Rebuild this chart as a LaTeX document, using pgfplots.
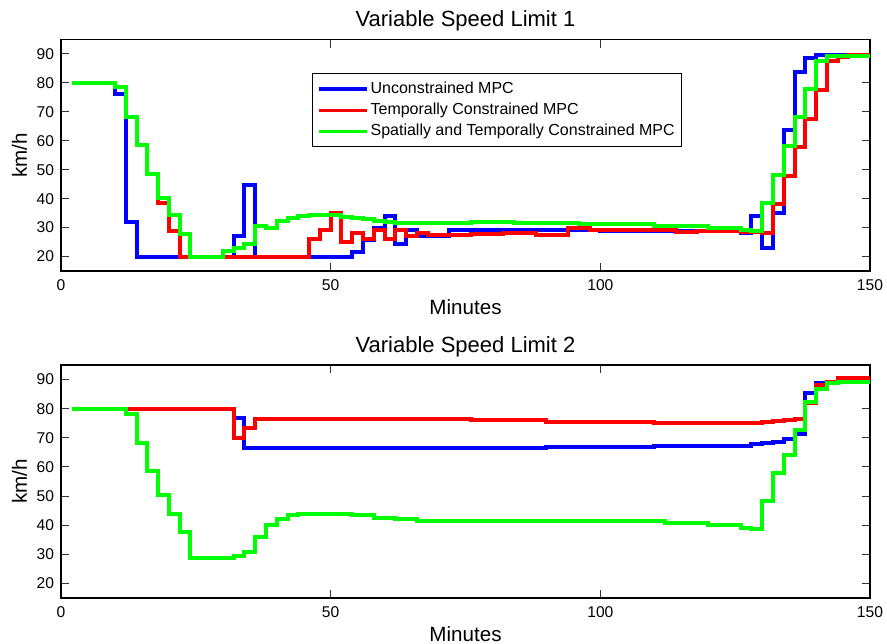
\documentclass[border=0pt]{standalone}
\usepackage{fontspec}
\setmainfont{Liberation Sans}
\usepackage{pgfplots}
\pgfplotsset{compat=1.18}
\definecolor{mblue}{RGB}{0,0,255}
\definecolor{mred}{RGB}{255,0,0}
\definecolor{mgreen}{RGB}{0,255,0}

\pgfplotsset{
  vsl/.style={
    scale only axis,
    width=404.5pt,
    xmin=0, xmax=150, ymin=15, ymax=95,
    xtick={0,50,100,150},
    ytick={20,30,...,90},
    /pgf/number format/assume math mode=true,
    axis line style={line width=0.9pt},
    major tick length=4pt,
    major tick style={line width=0.5pt, black!80},
    tick label style={font=\fontsize{7.8}{9}\selectfont},
    xticklabel style={anchor=base, yshift=-9.9pt},
    label style={font=\fontsize{10.3}{12}\selectfont},
    title style={font=\fontsize{11}{13}\selectfont,
      at={([yshift=0.3pt]axis description cs:0.5,1)}, anchor=base},
    xlabel={Minutes},
    ylabel={km/h},
    xlabel style={at={([yshift=-21.5pt]axis description cs:0.5,0)}, anchor=base},
    ylabel style={at={([xshift=-17pt]axis description cs:0,0.5)}, anchor=base},
    every axis plot/.append style={const plot, no marks, line width=2pt},
  },
  unc/.style={draw=mblue},
  tem/.style={draw=mred},
  spa/.style={draw=mgreen},
}

\begin{document}
\begin{tikzpicture}
\useasboundingbox (0,0) rectangle (443.5pt,-321.5pt);

% ---- Variable Speed Limit 1
\begin{axis}[vsl,
  at={(30.5pt,-135.5pt)}, anchor=south west,
  height=115.75pt,
  title={Variable Speed Limit 1},
  legend style={at={(axis description cs:0.310,0.855)}, anchor=north west,
    draw=black, line width=0.6pt, fill=white,
    font=\fontsize{8}{9}\selectfont,
    inner xsep=2.5pt, inner ysep=3pt, row sep=1.3pt,
    nodes={inner sep=1pt}},
  legend cell align=left,
  legend image code/.code={\draw[#1, line width=1.6pt] (0pt,0pt) -- (24pt,0pt);},
]
\addplot[unc] coordinates {
(2,80) (10,76) (12,32) (14,20) (32,27) (34,44.7) (36,20) (54,21.5) (56,25.7)
(58,29.8) (60,34) (62,24.2) (64,29) (66,27) (72,29) (100,28.9) (126,28.3)
(128,34) (130,23) (132,35) (134,63.7) (136,83.7) (138,88.7) (140,89.5) (150,89.5)
};
\addlegendentry{Unconstrained MPC}
\addplot[tem] coordinates {
(2,80) (10,78.5) (12,68.2) (14,58.6) (16,48.4) (18,38.6) (20,28.7) (22,20)
(46,25.9) (48,29) (50,35) (52,25.1) (54,28.2) (56,26.1) (58,29) (60,26.1)
(62,29) (64,27) (66,28.2) (68,27.3) (76,27.8) (82,28.2) (88,27.6) (90,27.3)
(94,30) (98,29) (114,28.4) (118,28.9) (126,28.6) (130,28.2) (132,38.2)
(134,47.8) (136,57.7) (138,67.4) (140,77.7) (142,87.6) (144,89) (146,89.8) (150,89.8)
};
\addlegendentry{Temporally Constrained MPC}
\addplot[spa] coordinates {
(2,80) (10,78.5) (12,68.2) (14,58.6) (16,48.4) (18,40.1) (20,34.2) (22,27.9)
(24,20) (30,21.9) (32,23.1) (34,24.4) (36,30.7) (38,30) (40,32.2) (42,33.4)
(44,33.9) (46,34.2) (50,34.2) (52,33.6) (54,33.2) (56,32.8) (58,32.4) (60,32)
(62,31.7) (76,31.9) (84,31.7) (96,31.3) (110,30.6) (120,29.8)
(126,29.3) (128,28.8) (130,38.4) (132,48.3) (134,58.3) (136,68.2) (138,78)
(140,87.6) (142,89.3) (150,89.5)
};
\addlegendentry{Spatially and Temporally Constrained MPC}
\end{axis}

% ---- Variable Speed Limit 2
\begin{axis}[vsl,
  at={(30.5pt,-299pt)}, anchor=south west,
  height=116.5pt,
  title={Variable Speed Limit 2},
]
\addplot[unc] coordinates {
(2,80) (32,76.7) (34,66.4) (64,66.6) (90,66.9) (110,67.3) (128,67.8) (130,68.2)
(132,68.7) (134,69.6) (136,71.3) (138,85.3) (140,88.7) (142,89.3) (144,89.6) (150,89.6)
};
\addplot[tem] coordinates {
(2,80) (32,69.8) (34,73.3) (36,76.5) (76,76) (90,75.6) (110,75.2) (126,75)
(130,75.3) (132,75.9) (134,76.1) (136,76.4) (138,81.8) (140,88.1) (142,89.3)
(144,90.4) (146,90.6) (150,90.6)
};
\addplot[spa] coordinates {
(2,80) (12,78.2) (14,68.3) (16,58.7) (18,50.3) (20,44) (22,37.7) (24,28.6)
(30,28.9) (32,29.3) (34,30.9) (36,36) (38,40) (40,42.3) (42,43.5) (44,44)
(50,44) (54,43.5) (58,42.5) (62,42) (66,41.6) (100,41.5) (112,40.8) (120,40)
(126,38.9) (128,38.6) (130,48.4) (132,57.8) (134,64.1) (136,72.7) (138,82.4)
(140,86.7) (142,88.9) (144,89.3) (150,89.5)
};
\end{axis}
\end{tikzpicture}
\end{document}
